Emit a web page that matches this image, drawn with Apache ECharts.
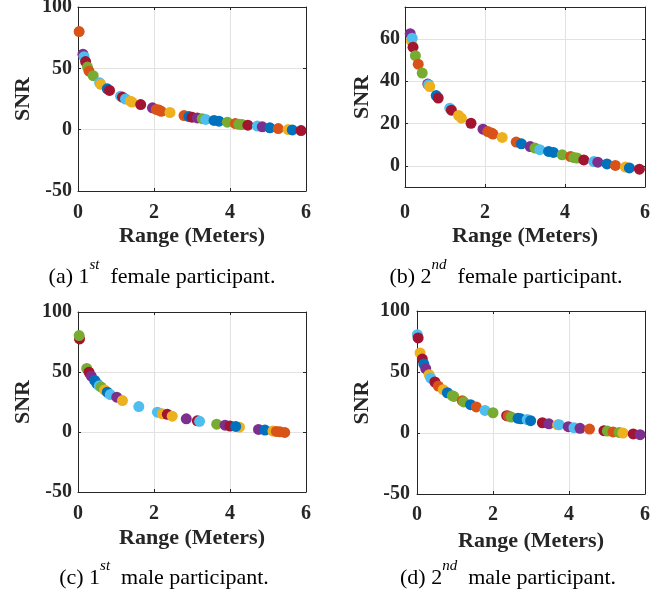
<!DOCTYPE html>
<html><head><meta charset="utf-8">
<script src="https://cdn.jsdelivr.net/npm/echarts@6/dist/echarts.min.js"></script>
<style>html,body{margin:0;padding:0;background:#fff;} #c{width:669px;height:596px;}</style>
</head><body><div id="c"></div>
<script>
// ---- data (Range in meters, SNR) ----
const aRange = [0.03,0.13,0.16,0.20,0.25,0.29,0.40,0.57,0.60,0.77,0.83,1.12,1.17,1.25,1.38,1.42,1.65,1.96,2.06,2.13,2.19,2.42,2.79,2.92,3.00,3.14,3.27,3.36,3.58,3.71,3.93,4.14,4.23,4.32,4.47,4.72,4.85,5.05,5.27,5.53,5.64,5.87];
const aSNR   = [80,61.5,59.5,55.5,51,47.7,44,38.2,37,33.3,32,27.3,26.5,25,23.2,22.5,20.5,17.8,16.5,16,15,14,11.5,10.7,10.2,9.6,9,8.3,7.5,6.9,6.1,5.0,4.4,4.2,3.7,2.9,2.3,1.5,0.9,0.1,-0.2,-0.7];
const aGroup = ['O','P','C','R','G','O','G','C','Y','B','R','C','R','C','Y','Y','R','P','O','O','O','Y','O','B','R','P','G','C','B','B','G','O','G','G','R','C','P','B','O','Y','B','R'];

const bRange = [0.13,0.16,0.18,0.20,0.26,0.33,0.43,0.57,0.59,0.62,0.78,0.83,1.12,1.16,1.34,1.41,1.65,1.95,2.07,2.16,2.20,2.43,2.78,2.91,3.13,3.25,3.37,3.59,3.71,3.93,4.14,4.22,4.30,4.47,4.72,4.82,5.05,5.26,5.51,5.61,5.86];
const bSNR   = [62.4,59,60.3,56,52,48,43.8,38.6,38.3,37.4,33.2,32,27.2,26.3,23.8,22.5,20.1,17.3,16.2,15.5,15,13.4,11.2,10.4,9.1,8.4,7.6,6.8,6.3,5.2,4.4,3.9,3.7,2.8,2.0,1.7,0.9,0.2,-0.6,-1.0,-1.6];
const bGroup = ['P','Y','C','R','G','O','G','P','C','Y','B','R','C','R','Y','Y','R','P','O','O','O','Y','O','B','P','G','C','B','B','G','O','G','G','R','C','P','B','O','Y','B','R'];

const cRange = [0.04,0.03,0.23,0.29,0.35,0.44,0.50,0.56,0.61,0.70,0.77,0.85,1.02,1.17,1.60,2.09,2.22,2.35,2.48,2.85,3.14,3.20,3.65,3.87,4.00,4.25,4.15,4.75,4.92,5.13,5.22,5.31,5.44];
const cSNR   = [77.6,80.4,53,49.8,46.5,43,40.3,38.5,37.4,35,33.2,31.2,29,26.2,21.2,16.5,15.2,14.7,13.2,11,9.3,8.9,6.5,5.7,5.0,4.0,4.6,2.1,1.6,0.8,0.5,0.2,-0.4];
const cGroup = ['R','G','G','R','P','B','B','C','G','Y','B','C','P','Y','C','C','Y','R','Y','P','R','C','G','P','R','Y','B','P','B','Y','O','O','O'];

const dRange = [0.01,0.03,0.08,0.14,0.18,0.23,0.32,0.36,0.47,0.56,0.69,0.80,0.93,0.97,1.19,1.23,1.41,1.56,1.79,2.00,2.36,2.40,2.48,2.66,2.73,2.90,2.99,3.30,3.47,3.70,3.74,3.98,4.13,4.29,4.54,4.92,5.01,5.16,5.32,5.42,5.69,5.87];
const dSNR   = [80.6,77.9,65.6,60.6,56.5,52.7,47.8,45,41.8,38.5,35.5,33,30.6,30,26.5,25.5,23.2,21.4,18.5,16.6,14.2,14,13.1,12,11.6,11,10.1,8.4,7.5,6.7,6.8,5.2,4.4,3.8,3.2,1.9,1.6,0.9,0.5,0,-0.8,-1.4];
const dGroup = ['C','R','Y','R','B','P','Y','C','R','O','Y','B','G','G','O','G','B','O','C','G','R','O','G','B','B','C','B','R','P','Y','C','P','C','P','O','R','G','O','G','Y','R','P'];

const captionTags = ['(a)','(b)','(c)','(d)'];
const captionOrd  = ['1','2','1','2'];
const captionSup  = ['st','nd','st','nd'];
const captionText = ['female participant.','female participant.','male participant.','male participant.'];
const xName = 'Range (Meters)';
const yName = 'SNR';

// ---- styling / layout ----
const FONT = "'Liberation Serif','Times New Roman',serif";
const PALETTE = {B:'#0072BD',O:'#D95319',Y:'#EDB120',P:'#7E2F8E',G:'#77AC30',C:'#4DBEEE',R:'#A2142F'};
const AX = '#262626';
const GRIDC = '#e2e2e2';

const panels = [
  {x:aRange, y:aSNR, g:aGroup, box:[78,7,228,184],  yMin:-50, yMax:100, yInt:50,   xm:12, xg:34, ym:6, yg:44},
  {x:bRange, y:bSNR, g:bGroup, box:[405,7,240,180], yMin:-10, yMax:75,  yInt:null, xm:16, xg:38, ym:5, yg:32},
  {x:cRange, y:cSNR, g:cGroup, box:[78,312,228,180],yMin:-50, yMax:100, yInt:50,   xm:12, xg:35, ym:6, yg:44},
  {x:dRange, y:dSNR, g:dGroup, box:[417,311,228,183],yMin:-50, yMax:100, yInt:50,  xm:11, xg:36, ym:7, yg:44}
];
const captionPos = [[162,277],[506,277],[164,578],[508,578]];

const grid=[], xAxis=[], yAxis=[], series=[];
panels.forEach((p,i)=>{
  grid.push({left:p.box[0], top:p.box[1], width:p.box[2], height:p.box[3], containLabel:false, outerBoundsMode:'none'});
  const line = {show:true, onZero:false, lineStyle:{color:AX, width:1}};
  const tick = {show:true, inside:true, length:3, lineStyle:{color:AX, width:1}};
  const label = {color:AX, fontFamily:FONT, fontWeight:'bold', fontSize:20};
  const nameStyle = {color:AX, fontFamily:FONT, fontWeight:'bold', fontSize:22};
  const split = {show:true, lineStyle:{color:GRIDC, width:1, type:'solid'}};
  xAxis.push({gridIndex:i, type:'value', min:0, max:6, interval:2, position:'bottom',
    axisLine:line, axisTick:tick, axisLabel:Object.assign({margin:p.xm}, label), splitLine:split,
    name:xName, nameLocation:'middle', nameGap:p.xg, nameTextStyle:nameStyle});
  xAxis.push({gridIndex:i, type:'value', min:0, max:6, interval:2, position:'top',
    axisLine:line, axisTick:tick, axisLabel:{show:false}, splitLine:{show:false}});
  const yBase = {gridIndex:i, type:'value', min:p.yMin, max:p.yMax};
  if (p.yInt) yBase.interval = p.yInt; else yBase.splitNumber = 4;
  yAxis.push(Object.assign({}, yBase, {position:'left',
    axisLine:line, axisTick:tick,
    axisLabel:Object.assign({margin:p.ym, showMinLabel: p.yInt ? true : false, showMaxLabel: p.yInt ? true : false}, label),
    splitLine:split, name:yName, nameLocation:'middle', nameGap:p.yg, nameRotate:90, nameTextStyle:nameStyle}));
  yAxis.push(Object.assign({}, yBase, {position:'right',
    axisLine:line, axisTick:tick, axisLabel:{show:false}, splitLine:{show:false}}));
  series.push({type:'scatter', xAxisIndex:2*i, yAxisIndex:2*i, symbol:'circle', symbolSize:11, clip:false,
    emphasis:{disabled:true}, silent:true,
    data:p.x.map((xv,k)=>({value:[xv,p.y[k]], itemStyle:{color:PALETTE[p.g[k]], opacity:1}}))});
});

const graphic = captionTags.map((t,i)=>({
  type:'text', x:captionPos[i][0], y:captionPos[i][1],
  style:{
    text:'{m|'+t+' '+captionOrd[i]+'}{s|'+captionSup[i]+'}{m|  '+captionText[i]+'}',
    align:'center', verticalAlign:'middle',
    rich:{
      m:{fontFamily:FONT, fontSize:22, fill:'#000', lineHeight:38},
      s:{fontFamily:FONT, fontSize:15, fill:'#000', verticalAlign:'top', fontStyle:'italic'}
    }
  }
}));

const chart = echarts.init(document.getElementById('c'), null, {renderer:'canvas'});
chart.setOption({animation:false, backgroundColor:'#fff', grid, xAxis, yAxis, series, graphic});
</script></body></html>
